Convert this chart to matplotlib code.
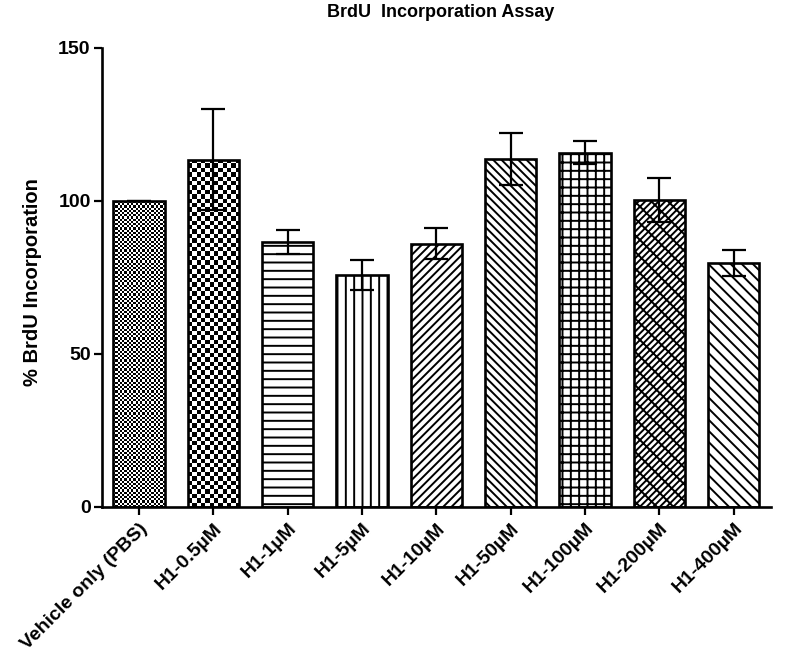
import numpy as np
import matplotlib
matplotlib.use("Agg")
from matplotlib import pyplot as plt

groups = ["Vehicle only (PBS)", "H1-0.5\u00b5M", "H1-1\u00b5M", "H1-5\u00b5M", "H1-10\u00b5M",
          "H1-50\u00b5M", "H1-100\u00b5M", "H1-200\u00b5M", "H1-400\u00b5M"]
brdu = [100.0, 113.5, 86.5, 75.8, 86.0, 113.8, 115.8, 100.3, 79.8]
sem = [0.0, 16.5, 4.0, 4.8, 5.0, 8.5, 3.8, 7.3, 4.2]
y_ticks = [0, 50, 100, 150]

# hatch per bar, None = checkerboard image (cell size in px)
hatches = [None, None, "--", "||", "////", "\\\\\\\\", "++", "///xx", "\\\\\\"]
checker_px = {0: 2.2, 1: 4.4}

plt.rcParams['font.family'] = ['Liberation Sans', 'DejaVu Sans']
plt.rcParams['font.weight'] = 'bold'
plt.rcParams['hatch.linewidth'] = 1.4
plt.rcParams['hatch.color'] = 'black'

fig = plt.figure(figsize=(7.89, 6.66), dpi=100)
ax = fig.add_axes([0.129, 0.239, 0.848, 0.689])

x = np.arange(len(groups))
bars = ax.bar(x, brdu, width=0.69, color='white', edgecolor='black', linewidth=1.9, zorder=2)
for b, h in zip(bars, hatches):
    if h is not None:
        b.set_hatch(h)

ax.set_xlim(-0.5, len(groups) - 0.5)
ax.set_ylim(0, 150)

# pixel size per data unit, for the checker patterns
p0 = ax.transData.transform((0, 0))
p1 = ax.transData.transform((1, 1))
px_x, px_y = p1[0] - p0[0], p1[1] - p0[1]

for i, cell in checker_px.items():
    b = bars[i]
    x0, w, h = b.get_x(), b.get_width(), b.get_height()
    nx = int(round(w * px_x / cell))
    ny = int(round(h * px_y / cell))
    chk = (np.add.outer(np.arange(ny), np.arange(nx)) % 2).astype(float)
    b.set_facecolor('none')
    im = ax.imshow(chk, cmap='gray_r', extent=(x0, x0 + w, 0, h), aspect='auto',
                   interpolation='nearest', zorder=1.5)
    im.set_clip_path(b)

ax.errorbar(x, brdu, yerr=sem, fmt='none', ecolor='black', elinewidth=1.6,
            capsize=8.5, capthick=1.6, zorder=3)

ax.set_xlim(-0.5, len(groups) - 0.5)
ax.set_ylim(0, 150)
ax.set_yticks(y_ticks)
ax.set_xticks(x)
ax.set_xticklabels(groups, rotation=45, ha='right', rotation_mode='anchor', fontsize=14)
ax.tick_params(axis='y', labelsize=14, width=1.6, length=6, pad=2)
ax.tick_params(axis='x', width=1.6, length=6)
for s in ['top', 'right']:
    ax.spines[s].set_visible(False)
for s in ['left', 'bottom']:
    ax.spines[s].set_linewidth(1.9)

ax.set_ylabel("% BrdU Incorporation", fontsize=14.5, fontweight='bold')
ax.yaxis.set_label_coords(-0.09, 0.49)
fig.text(0.559, 0.981, "BrdU  Incorporation Assay", ha='center', va='center',
         fontsize=13, fontweight='bold')

fig.savefig("out.png", dpi=100)
